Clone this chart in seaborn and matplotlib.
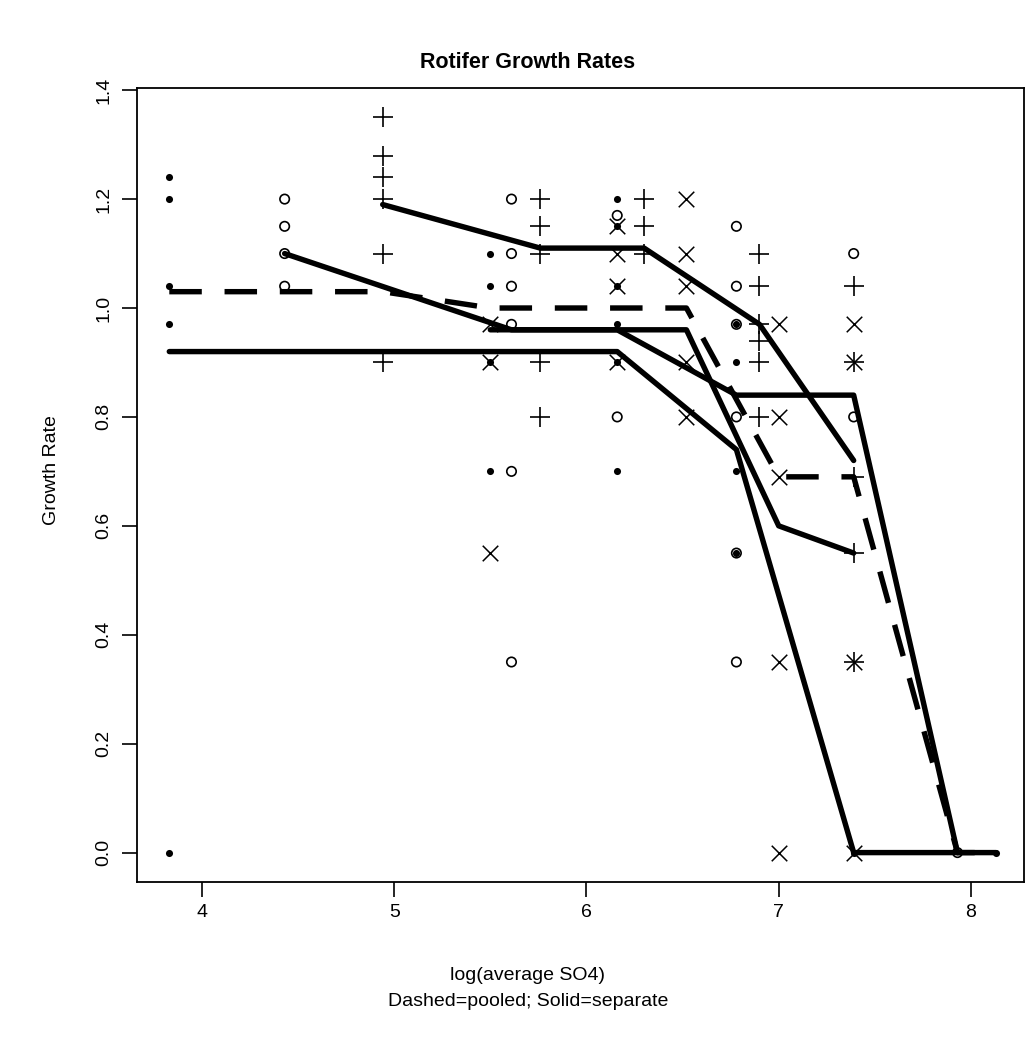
import matplotlib
matplotlib.use("Agg")
import matplotlib.pyplot as plt
import seaborn as sns

# ---------------- data ----------------
# observed points, one array pair per group (symbol)
dots_x = [3.83, 3.83, 3.83, 3.83, 3.83,
          5.50, 5.50, 5.50, 5.50,
          6.16, 6.16, 6.16, 6.16, 6.16, 6.16,
          6.78, 6.78, 6.78, 6.78,
          7.39, 8.13]
dots_y = [1.24, 1.20, 1.04, 0.97, 0.00,
          1.10, 1.04, 0.90, 0.70,
          1.20, 1.15, 1.04, 0.97, 0.90, 0.70,
          0.97, 0.90, 0.70, 0.55,
          0.00, 0.00]

circ_x = [4.43, 4.43, 4.43, 4.43,
          5.61, 5.61, 5.61, 5.61, 5.61, 5.61,
          6.16, 6.16,
          6.78, 6.78, 6.78, 6.78, 6.78, 6.78,
          7.39, 7.39, 7.93]
circ_y = [1.20, 1.15, 1.10, 1.04,
          1.20, 1.10, 1.04, 0.97, 0.70, 0.35,
          1.17, 0.80,
          1.15, 1.04, 0.97, 0.80, 0.55, 0.35,
          1.10, 0.80, 0.00]

plus_x = [4.94, 4.94, 4.94, 4.94, 4.94, 4.94,
          5.76, 5.76, 5.76, 5.76, 5.76,
          6.30, 6.30, 6.30,
          6.90, 6.90, 6.90, 6.90, 6.90, 6.90,
          7.39, 7.39, 7.39, 7.39, 7.39]
plus_y = [1.35, 1.28, 1.24, 1.20, 1.10, 0.90,
          1.20, 1.15, 1.10, 0.90, 0.80,
          1.20, 1.15, 1.10,
          1.10, 1.04, 0.97, 0.94, 0.90, 0.80,
          1.04, 0.90, 0.69, 0.55, 0.35]

cross_x = [5.50, 5.50, 5.50,
           6.16, 6.16, 6.16, 6.16,
           6.52, 6.52, 6.52, 6.52, 6.52,
           7.00, 7.00, 7.00, 7.00, 7.00,
           7.39, 7.39, 7.39, 7.39]
cross_y = [0.97, 0.90, 0.55,
           1.15, 1.10, 1.04, 0.90,
           1.20, 1.10, 1.04, 0.90, 0.80,
           0.97, 0.80, 0.69, 0.35, 0.00,
           0.97, 0.90, 0.35, 0.00]

# fitted curves (separate fits: solid; pooled fit: dashed)
fit_dots_x = [3.83, 5.50, 6.16, 6.78, 7.39, 8.13]
fit_dots_y = [0.92, 0.92, 0.92, 0.74, 0.00, 0.00]
fit_circ_x = [4.43, 5.61, 6.16, 6.78, 7.39, 7.93]
fit_circ_y = [1.10, 0.96, 0.96, 0.84, 0.84, 0.00]
fit_plus_x = [4.94, 5.76, 6.30, 6.90, 7.39]
fit_plus_y = [1.19, 1.11, 1.11, 0.97, 0.72]
fit_cross_x = [5.50, 6.16, 6.52, 7.00, 7.39]
fit_cross_y = [0.96, 0.96, 0.96, 0.60, 0.55]
pooled_x = [3.83, 4.43, 4.94, 5.50, 5.61, 5.76, 6.16, 6.30, 6.52, 7.00, 7.39, 7.93, 8.13]
pooled_y = [1.03, 1.03, 1.03, 1.00, 1.00, 1.00, 1.00, 1.00, 1.00, 0.69, 0.69, 0.00, 0.00]

x_ticks = [4, 5, 6, 7, 8]
y_ticks = [0.0, 0.2, 0.4, 0.6, 0.8, 1.0, 1.2, 1.4]
y_tick_labels = ["0.0", "0.2", "0.4", "0.6", "0.8", "1.0", "1.2", "1.4"]

title = "Rotifer Growth Rates"
xlabel1 = "log(average SO4)"
xlabel2 = "Dashed=pooled; Solid=separate"
ylabel = "Growth Rate"

# ---------------- style ----------------
sns.set_style("ticks")
plt.rcParams['font.family'] = ['Liberation Sans', 'DejaVu Sans']
plt.rcParams['text.color'] = 'black'
plt.rcParams['axes.labelcolor'] = 'black'
plt.rcParams['xtick.color'] = 'black'
plt.rcParams['ytick.color'] = 'black'

W, H = 1029, 1057
fig = plt.figure(figsize=(W / 100, H / 100), dpi=100)
L, R, T, B = 137, 1024, 88, 882
ax = fig.add_axes([L / W, 1 - B / H, (R - L) / W, (B - T) / H])

# points
sns.scatterplot(x=dots_x, y=dots_y, marker='o', s=26, color='black',
                edgecolor='black', linewidth=0, ax=ax, zorder=3)
sns.scatterplot(x=circ_x, y=circ_y, marker='o', s=46, facecolor='none',
                edgecolor='black', linewidth=1.2, ax=ax, zorder=3)
sns.scatterplot(x=plus_x, y=plus_y, marker='+', s=200, color='black',
                linewidth=1.2, ax=ax, zorder=3)
sns.scatterplot(x=cross_x, y=cross_y, marker='x', s=125, color='black',
                linewidth=1.1, ax=ax, zorder=3)

# fitted lines
LW = 3.9
line_kw = dict(color='black', lw=LW, estimator=None, sort=False, ax=ax,
               solid_capstyle='round', solid_joinstyle='round', zorder=4)
for fx, fy in [(fit_dots_x, fit_dots_y), (fit_circ_x, fit_circ_y),
               (fit_plus_x, fit_plus_y), (fit_cross_x, fit_cross_y)]:
    sns.lineplot(x=fx, y=fy, **line_kw)
sns.lineplot(x=pooled_x, y=pooled_y, color='black', lw=LW, estimator=None,
             sort=False, ax=ax, linestyle=(0, (6.0, 4.2)),
             dash_capstyle='butt', zorder=4)

ax.set_xlim(3.662, 8.276)
ax.set_ylim(-0.054, 1.404)
ax.set_xticks(x_ticks)
ax.set_xticklabels([str(t) for t in x_ticks])
ax.set_yticks(y_ticks)
ax.set_yticklabels(y_tick_labels, rotation=90, va='center')
ax.tick_params(axis='both', length=11, width=1.2, color='black',
               labelsize=14, labelcolor='black', direction='out')
ax.tick_params(axis='x', pad=5)
ax.tick_params(axis='y', pad=7)
for s in ax.spines.values():
    s.set_visible(True)
    s.set_color('black')
    s.set_linewidth(1.3)
ax.set_xlabel("")
ax.set_ylabel("")

fig.text(528 / W, 1 - 62 / H, title, ha='center', va='center',
         fontsize=15.5, fontweight='bold', color='black')
fig.text(528 / W, 1 - 975 / H, xlabel1, ha='center', va='center',
         fontsize=14, color='black')
fig.text(528 / W, 1 - 1001 / H, xlabel2, ha='center', va='center',
         fontsize=14, color='black')
fig.text(52 / W, 1 - 470 / H, ylabel, ha='center', va='center',
         fontsize=14, rotation=90, color='black')

fig.savefig("out.png", dpi=100, facecolor='white')
